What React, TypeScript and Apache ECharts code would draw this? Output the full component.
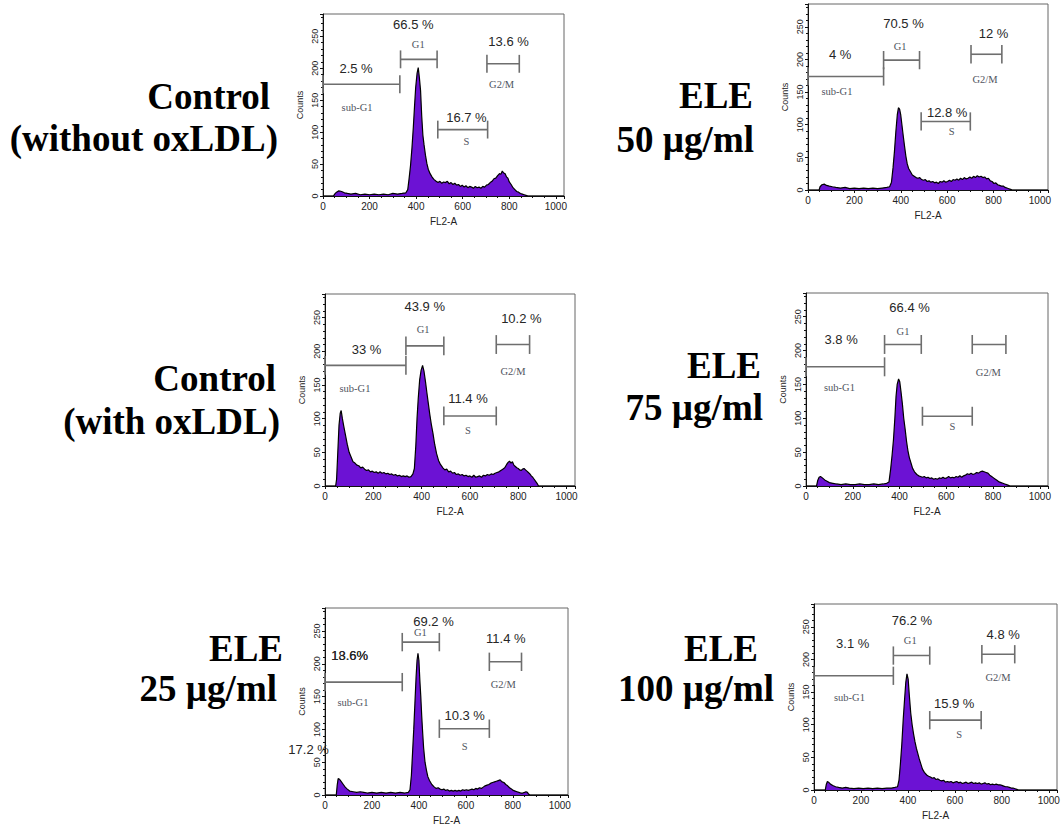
import React, { useEffect, useRef } from "react";
import * as echarts from "echarts";

// ---------- histogram data: [FL2-A channel, counts] ----------
const HIST_CTRL_NO_OX = [[0,0],[45,0],[50,3],[58,6],[68,8],[80,7],[92,5],[105,4],[120,3],[140,4],[160,2],[180,3],[200,2],[220,3],[240,2],[260,3],[280,2],[300,4],[320,3],[340,4],[356,5],[364,10],[370,28],[376,48],[382,75],[388,108],[393,140],[398,170],[404,192],[409,201],[414,185],[419,165],[424,125],[429,95],[434,80],[440,64],[446,51],[452,42],[460,35],[468,30],[476,26],[486,23],[494,21],[502,23],[510,20],[518,22],[526,21],[534,23],[542,19],[550,21],[558,18],[566,20],[574,17],[582,18],[590,15],[598,17],[606,14],[614,16],[622,13],[630,15],[638,14],[646,12],[654,15],[662,13],[670,14],[678,12],[686,15],[694,14],[702,17],[710,18],[718,21],[726,23],[734,27],[742,28],[750,32],[758,35],[764,34],[770,39],[776,36],[782,35],[788,30],[794,28],[800,22],[808,18],[816,13],[824,10],[832,7],[840,6],[848,4],[856,3],[864,2],[872,1],[880,0],[1035,0]];
const HIST_ELE50 = [[0,0],[48,0],[52,5],[60,8],[70,9],[80,7],[92,6],[105,5],[120,4],[140,3],[160,4],[180,2],[200,3],[220,2],[240,3],[260,2],[280,3],[300,2],[320,3],[340,4],[352,5],[360,12],[367,35],[373,60],[379,90],[385,115],[390,126],[395,124],[400,115],[405,100],[410,85],[416,68],[422,52],[428,40],[434,33],[442,28],[450,23],[458,21],[466,19],[474,18],[482,19],[490,16],[498,15],[506,16],[514,13],[522,14],[530,12],[538,13],[546,11],[554,12],[562,10],[570,13],[578,12],[586,14],[594,12],[602,13],[610,15],[618,13],[626,16],[634,15],[642,17],[650,15],[658,18],[666,16],[674,19],[682,17],[690,18],[698,20],[706,18],[714,21],[722,19],[730,22],[738,20],[746,21],[754,19],[762,20],[770,17],[778,18],[786,14],[794,13],[802,10],[810,11],[818,8],[826,7],[834,6],[842,6],[850,4],[858,3],[866,2],[874,1],[880,0],[1035,0]];
const HIST_CTRL_OX = [[0,0],[44,0],[48,10],[53,50],[58,90],[63,108],[67,112],[72,100],[78,88],[85,75],[92,62],[100,50],[108,43],[116,36],[124,34],[132,31],[140,30],[148,27],[156,28],[164,25],[172,23],[180,24],[188,21],[196,22],[204,20],[212,21],[220,19],[228,21],[236,19],[244,20],[252,18],[260,19],[268,17],[276,18],[284,16],[292,17],[300,15],[308,16],[316,14],[324,15],[332,14],[340,15],[348,13],[356,14],[364,18],[370,26],[376,60],[381,100],[386,130],[392,158],[398,172],[404,179],[410,170],[416,155],[422,138],[428,122],[434,106],[440,92],[447,78],[454,62],[462,48],[470,38],[478,32],[488,27],[496,24],[504,25],[512,21],[520,22],[528,19],[536,20],[544,17],[552,18],[560,16],[568,17],[576,15],[584,16],[592,14],[600,15],[608,13],[616,16],[624,13],[632,14],[640,15],[648,13],[656,16],[664,15],[672,17],[680,16],[688,18],[696,17],[704,19],[712,20],[720,21],[728,23],[736,25],[744,27],[752,32],[758,35],[764,37],[770,34],[776,36],[782,31],[788,29],[794,27],[800,26],[806,24],[812,23],[818,25],[824,26],[830,24],[836,22],[842,20],[848,18],[854,15],[860,13],[866,10],[872,7],[878,4],[884,0],[1035,0]];
const HIST_ELE75 = [[0,0],[45,0],[50,8],[56,13],[62,14],[70,12],[80,9],[90,7],[100,5],[115,4],[130,3],[150,2],[170,3],[190,2],[210,2],[230,3],[250,2],[270,2],[290,3],[310,2],[330,3],[345,4],[355,6],[362,25],[368,45],[374,68],[380,100],[385,132],[390,150],[396,158],[401,154],[406,140],[412,122],[418,100],[424,84],[430,66],[436,52],[442,42],[449,34],[456,26],[464,21],[474,17],[482,15],[490,14],[498,13],[506,14],[514,12],[522,13],[530,11],[538,12],[546,10],[554,11],[562,10],[570,12],[578,11],[586,13],[594,11],[602,12],[610,14],[618,12],[626,13],[634,12],[642,14],[650,13],[658,15],[666,13],[674,15],[682,16],[690,18],[698,17],[706,19],[714,17],[722,18],[730,20],[738,19],[746,21],[754,22],[762,21],[770,20],[778,19],[786,16],[794,14],[802,12],[810,10],[818,8],[826,6],[834,5],[842,4],[850,3],[858,2],[866,1],[872,0],[1035,0]];
const HIST_ELE25 = [[0,0],[48,0],[52,15],[56,25],[62,24],[70,20],[78,16],[86,12],[95,9],[105,6],[120,5],[135,4],[150,5],[165,4],[180,3],[200,4],[220,3],[240,4],[260,3],[280,4],[300,3],[320,4],[340,3],[355,4],[362,8],[368,30],[373,65],[378,100],[383,140],[388,180],[392,205],[396,216],[400,205],[404,175],[408,150],[412,120],[416,95],[420,72],[426,50],[432,38],[438,28],[445,22],[455,16],[466,12],[474,10],[482,11],[490,9],[498,8],[506,9],[514,7],[522,8],[530,6],[538,7],[546,6],[554,7],[562,6],[570,7],[578,6],[586,8],[594,7],[602,8],[610,7],[618,8],[626,9],[634,8],[642,10],[650,9],[658,11],[666,10],[674,12],[682,14],[690,15],[698,16],[706,18],[714,19],[722,20],[730,21],[738,22],[746,23],[754,20],[762,19],[770,16],[778,14],[786,11],[794,9],[802,7],[810,6],[818,5],[826,4],[834,3],[842,3],[850,4],[856,5],[862,4],[868,1],[872,0],[1035,0]];
const HIST_ELE100 = [[0,0],[48,0],[52,8],[57,13],[62,12],[70,9],[80,7],[92,5],[105,4],[120,3],[135,4],[150,3],[170,2],[190,3],[210,2],[230,3],[250,2],[270,3],[290,2],[310,3],[330,3],[345,4],[356,5],[362,15],[368,40],[374,70],[380,108],[386,140],[391,165],[396,178],[401,170],[406,145],[412,118],[418,100],[424,86],[430,74],[436,64],[442,56],[448,48],[455,40],[462,32],[470,27],[480,23],[488,21],[496,20],[504,18],[512,19],[520,16],[528,17],[536,15],[544,14],[552,15],[560,12],[568,13],[576,12],[584,13],[592,11],[600,12],[608,13],[616,11],[624,12],[632,10],[640,11],[648,12],[656,10],[664,11],[672,12],[680,10],[688,11],[696,10],[704,11],[712,9],[720,10],[728,11],[736,9],[744,10],[752,8],[760,9],[768,8],[776,9],[784,8],[792,8],[800,7],[808,6],[816,5],[824,5],[832,4],[840,3],[848,3],[856,2],[864,1],[870,0],[1035,0]];

// ---------- gates: [from channel, to channel, counts level] (sub-G1, G1, S, G2/M) ----------
const GATES_CTRL_NO_OX = [[0,330,175],[333,490,214],[493,707,104],[704,843,207]];
const GATES_ELE50 = [[0,326,174],[326,481,199],[488,700,105],[703,836,208]];
const GATES_CTRL_OX = [[0,335,179],[335,492,208],[492,709,104],[709,847,210]];
const GATES_ELE75 = [[0,336,176],[336,493,209],[498,711,103],[711,855,209]];
const GATES_ELE25 = [[0,329,172],[329,487,233],[487,700,101],[700,837,203]];
const GATES_ELE100 = [[0,338,175],[338,493,206],[493,712,107],[715,855,208]];

// ---------- annotations: [text, channel, counts, kind] ----------
const LABELS_CTRL_NO_OX = [["2.5 %",142,199,"pct"],["66.5 %",388,269,"pct"],["16.7 %",616,123,"pct"],["13.6 %",797,242,"pct"],["sub-G1",146,138,"gate"],["G1",409,237,"gate"],["S",616,85,"gate"],["G2/M",767,175,"gate"]];
const LABELS_ELE50 = [["4 %",139,207,"pct"],["70.5 %",412,255,"pct"],["12.8 %",600,118,"pct"],["12 %",800,240,"pct"],["sub-G1",125,151,"gate"],["G1",397,220,"gate"],["S",620,89,"gate"],["G2/M",763,169,"gate"]];
const LABELS_CTRL_OX = [["33 %",172,202,"pct"],["43.9 %",413,267,"pct"],["11.4 %",592,130,"pct"],["10.2 %",813,248,"pct"],["sub-G1",124,145,"gate"],["G1",406,232,"gate"],["S",592,83,"gate"],["G2/M",778,170,"gate"]];
const LABELS_ELE75 = [["3.8 %",150,216,"pct"],["66.4 %",443,263,"pct"],["sub-G1",143,145,"gate"],["G1",415,228,"gate"],["S",626,88,"gate"],["G2/M",780,167,"gate"]];
const LABELS_ELE25 = [["13.6%",105,213,"pct"],["18.6%",105,213,"pct"],["17.2 %",-70,69,"pct"],["69.2 %",462,265,"pct"],["10.3 %",595,121,"pct"],["11.4 %",770,238,"pct"],["sub-G1",119,141,"gate"],["G1",406,248,"gate"],["S",595,74,"gate"],["G2/M",759,168,"gate"]];
const LABELS_ELE100 = [["3.1 %",165,224,"pct"],["76.2 %",417,260,"pct"],["15.9 %",597,133,"pct"],["4.8 %",806,239,"pct"],["sub-G1",151,142,"gate"],["G1",410,229,"gate"],["S",618,85,"gate"],["G2/M",784,172,"gate"]];

// ---------- panel titles ----------
const TITLES_CTRL_NO_OX = ["Control", "(without oxLDL)"];
const TITLES_ELE50 = ["ELE", "50 µg/ml"];
const TITLES_CTRL_OX = ["Control", "(with oxLDL)"];
const TITLES_ELE75 = ["ELE", "75 µg/ml"];
const TITLES_ELE25 = ["ELE", "25 µg/ml"];
const TITLES_ELE100 = ["ELE", "100 µg/ml"];

const X_TICK_INTERVAL = 200;
const Y_TICK_INTERVAL = 50;
const X_MAX = 1035;
const Y_MAX = 285;

// ---------- layout (pixels) ----------
const PANELS = [
  { hist: HIST_CTRL_NO_OX, gates: GATES_CTRL_NO_OX, labels: LABELS_CTRL_NO_OX, titles: TITLES_CTRL_NO_OX,
    box: [323, 14, 241, 182], title: [[270, 96], [278, 138]] },
  { hist: HIST_ELE50, gates: GATES_ELE50, labels: LABELS_ELE50, titles: TITLES_ELE50,
    box: [808, 4, 240, 186], title: [[753, 95], [754, 139]] },
  { hist: HIST_CTRL_OX, gates: GATES_CTRL_OX, labels: LABELS_CTRL_OX, titles: TITLES_CTRL_OX,
    box: [325, 294, 250, 192], title: [[276, 378], [280, 421]] },
  { hist: HIST_ELE75, gates: GATES_ELE75, labels: LABELS_ELE75, titles: TITLES_ELE75,
    box: [806, 293, 242, 193], title: [[761, 365], [763, 407]] },
  { hist: HIST_ELE25, gates: GATES_ELE25, labels: LABELS_ELE25, titles: TITLES_ELE25,
    box: [325, 608, 243, 187], title: [[283, 648], [277, 688]] },
  { hist: HIST_ELE100, gates: GATES_ELE100, labels: LABELS_ELE100, titles: TITLES_ELE100,
    box: [814, 604, 243, 186], title: [[758, 648], [774, 688]] },
];

const PURPLE = "#6c12d4";
const SANS = '"Liberation Sans", Arial, sans-serif';
const SERIF = '"Liberation Serif", "Times New Roman", serif';

function buildOption() {
  const grid: any[] = [];
  const xAxis: any[] = [];
  const yAxis: any[] = [];
  const series: any[] = [];
  const graphic: any[] = [];

  PANELS.forEach((p, i) => {
    const [left, top, width, height] = p.box;
    grid.push({ left, top, width, height, show: true, borderColor: "#666", borderWidth: 1, backgroundColor: "transparent" });
    xAxis.push({
      type: "value", gridIndex: i, min: 0, max: X_MAX, interval: X_TICK_INTERVAL,
      axisLine: { show: true, lineStyle: { color: "#111", width: 1 } },
      axisTick: { show: true, length: 3, lineStyle: { color: "#111" } },
      minorTick: { show: true, splitNumber: 4, length: 2, lineStyle: { color: "#111" } },
      splitLine: { show: false },
      axisLabel: { fontSize: 10, color: "#222", fontFamily: SANS, margin: 5, showMaxLabel: false, formatter: (v: number) => String(v) },
      name: "FL2-A", nameLocation: "middle", nameGap: 20,
      nameTextStyle: { fontSize: 10, color: "#222", fontFamily: SANS },
    });
    yAxis.push({
      type: "value", gridIndex: i, min: 0, max: Y_MAX, interval: Y_TICK_INTERVAL,
      axisLine: { show: true, lineStyle: { color: "#111", width: 1 } },
      axisTick: { show: true, length: 3, lineStyle: { color: "#111" } },
      minorTick: { show: true, splitNumber: 5, length: 2, lineStyle: { color: "#111" } },
      splitLine: { show: false },
      axisLabel: { fontSize: 9, color: "#222", fontFamily: SANS, margin: 4, rotate: 90, showMaxLabel: false },
      name: "Counts", nameLocation: "middle", nameGap: 19, nameRotate: 90,
      nameTextStyle: { fontSize: 9, color: "#222", fontFamily: SANS },
    });
    series.push({
      type: "line", xAxisIndex: i, yAxisIndex: i, data: p.hist, symbol: "none", silent: true,
      lineStyle: { color: "#000", width: 1.2 }, areaStyle: { color: PURPLE, opacity: 1 },
    });
    series.push({
      type: "custom", xAxisIndex: i, yAxisIndex: i, data: p.gates, silent: true,
      renderItem: (params: any, api: any) => {
        const a = api.coord([api.value(0), api.value(2)]);
        const b = api.coord([api.value(1), api.value(2)]);
        const h = api.size([0, 14])[1];
        const st = { stroke: "#6e6e6e", lineWidth: 1.6 };
        return {
          type: "group",
          children: [
            { type: "line", shape: { x1: a[0], y1: a[1], x2: b[0], y2: b[1] }, style: st },
            { type: "line", shape: { x1: a[0], y1: a[1] - h, x2: a[0], y2: a[1] + h }, style: st },
            { type: "line", shape: { x1: b[0], y1: b[1] - h, x2: b[0], y2: b[1] + h }, style: st },
          ],
        };
      },
    });
    const labels = p.labels;
    series.push({
      type: "custom", xAxisIndex: i, yAxisIndex: i, silent: true, clip: false,
      data: labels.map((l: any) => [l[1], l[2]]),
      renderItem: (params: any, api: any) => {
        const l: any = labels[params.dataIndex];
        const pt = api.coord([api.value(0), api.value(1)]);
        const isPct = l[3] === "pct";
        return {
          type: "text",
          x: pt[0], y: pt[1],
          style: {
            text: l[0],
            fill: isPct ? "#262626" : "#50545e",
            font: isPct ? `13px ${SANS}` : `10.5px ${SERIF}`,
            align: "center", verticalAlign: "middle",
            textAlign: "center", textVerticalAlign: "middle",
          },
        };
      },
    });
    p.titles.forEach((t, k) => {
      graphic.push({
        type: "text", x: p.title[k][0], y: p.title[k][1], silent: true,
        style: {
          text: t, fill: "#000", font: `bold 37px ${SERIF}`,
          align: "right", verticalAlign: "middle", textAlign: "right", textVerticalAlign: "middle",
        },
      });
    });
  });

  return { animation: false, backgroundColor: "#fff", grid, xAxis, yAxis, series, graphic };
}

export default function App() {
  const ref = useRef<HTMLDivElement>(null);
  useEffect(() => {
    if (!ref.current) return;
    const chart = echarts.init(ref.current, undefined, { renderer: "svg" });
    chart.setOption(buildOption() as any);
    return () => chart.dispose();
  }, []);
  return <div ref={ref} style={{ position: "fixed", left: 0, top: 0, width: 1064, height: 832 }} />;
}
